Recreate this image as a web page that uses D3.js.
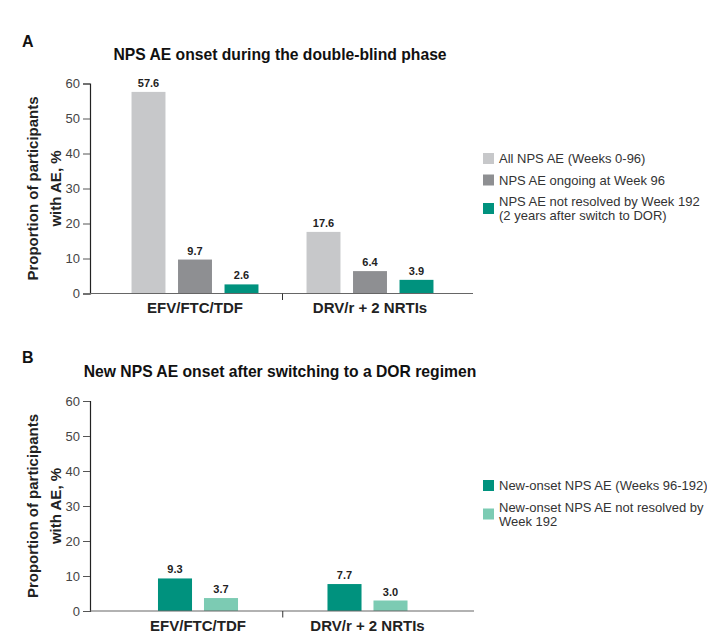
<!DOCTYPE html>
<html>
<head>
<meta charset="utf-8">
<script src="https://cdn.jsdelivr.net/npm/d3@7"></script>
<style>
  body { margin: 0; background: #fff; }
  svg { display: block; font-family: "Liberation Sans", Arial, Helvetica, sans-serif; }
</style>
</head>
<body>
<div class="chart"></div>
<script>
// data
const groups = ["EFV/FTC/TDF", "DRV/r + 2 NRTIs"];
const yTicks = [0, 10, 20, 30, 40, 50, 60];

const seriesA = [
  "All NPS AE (Weeks 0-96)",
  "NPS AE ongoing at Week 96",
  "NPS AE not resolved by Week 192\n(2 years after switch to DOR)"
];
const allNps = [57.6, 17.6];
const ongoingWk96 = [9.7, 6.4];
const notResolvedWk192 = [2.6, 3.9];

const seriesB = [
  "New-onset NPS AE (Weeks 96-192)",
  "New-onset NPS AE not resolved by\nWeek 192"
];
const newOnset = [9.3, 7.7];
const newNotResolved = [3.7, 3.0];

const colorsA = ["#c7c8ca", "#8e8f92", "#00927e"];
const colorsB = ["#00927e", "#7ccbb3"];

const svg = d3.select(".chart").append("svg")
  .attr("width", 707)
  .attr("height", 634);

// one panel = title, y axis, grouped bars, legend
const drawPanel = p => {
  const g = svg.append("g");

  g.append("text")
    .attr("x", 22).attr("y", p.letterY)
    .style("font-size", "16px").style("font-weight", "bold").style("fill", "#111")
    .text(p.letter);

  g.append("text")
    .attr("x", 280).attr("y", p.titleY)
    .attr("text-anchor", "middle")
    .style("font-size", "15.7px").style("font-weight", "bold").style("fill", "#111")
    .text(p.title);

  const y = d3.scaleLinear().domain([0, 60]).range([p.y0, p.y0 - 210]);

  const x0 = d3.scaleBand().domain(groups).range(p.groupRange).padding(0);
  const x1 = d3.scaleBand().domain(p.series)
    .range([-p.innerWidth / 2, p.innerWidth / 2])
    .paddingInner(p.padIn).paddingOuter(p.padIn / 2);

  // y axis
  const yAxis = g.append("g")
    .attr("transform", `translate(90,0)`)
    .call(d3.axisLeft(y).tickValues(yTicks).tickSize(7).tickPadding(3));
  yAxis.select(".domain").attr("stroke", "#222").attr("stroke-width", 1.2);
  yAxis.selectAll(".tick line").attr("stroke", "#555");
  yAxis.selectAll(".tick text")
    .style("font-size", "13px").style("fill", "#444")
    .style("font-family", "'Liberation Sans', Arial, sans-serif");

  // y axis title, two lines
  const yt = g.append("text")
    .attr("transform", `translate(0, ${y(30)}) rotate(-90)`)
    .attr("text-anchor", "middle")
    .style("font-size", "15px").style("font-weight", "bold").style("fill", "#222");
  yt.append("tspan").attr("x", 0).attr("y", 37.5).text("Proportion of participants");
  yt.append("tspan").attr("x", 0).attr("y", 60.5).text("with AE, %");

  // bars
  const rows = groups.map((grp, i) => ({
    grp,
    vals: p.series.map((s, j) => ({ s, v: p.values[j][i], c: p.colors[j] }))
  }));

  const grpG = g.selectAll(".grp")
    .data(rows)
    .join("g")
    .attr("class", "grp")
    .attr("transform", d => `translate(${x0(d.grp) + x0.bandwidth() / 2},0)`);

  grpG.selectAll("rect")
    .data(d => d.vals)
    .join("rect")
    .attr("x", d => x1(d.s))
    .attr("y", d => y(d.v))
    .attr("width", x1.bandwidth())
    .attr("height", d => y(0) - y(d.v))
    .attr("fill", d => d.c);

  grpG.selectAll(".val")
    .data(d => d.vals)
    .join("text")
    .attr("class", "val")
    .attr("x", d => x1(d.s) + x1.bandwidth() / 2)
    .attr("y", d => y(d.v) - 5)
    .attr("text-anchor", "middle")
    .style("font-size", "11px").style("font-weight", "bold").style("fill", "#222")
    .text(d => d.v.toFixed(1));

  grpG.append("text")
    .attr("y", y(0) + 19.5)
    .attr("text-anchor", "middle")
    .style("font-size", "15px").style("font-weight", "bold").style("fill", "#222")
    .text(d => d.grp);

  // baseline and separator tick
  g.append("line")
    .attr("x1", 90).attr("x2", p.axisEnd)
    .attr("y1", y(0)).attr("y2", y(0))
    .attr("stroke", "#666").attr("stroke-width", 1.2);

  const sep = (x0(groups[0]) + x0(groups[1]) + x0.bandwidth()) / 2;
  g.append("line")
    .attr("x1", sep).attr("x2", sep)
    .attr("y1", y(0)).attr("y2", y(0) + 6.5)
    .attr("stroke", "#333").attr("stroke-width", 1);

  // legend
  let ly = p.legendY;
  p.series.forEach((s, j) => {
    const lines = s.split("\n");
    const mid = ly - 4.5 + (lines.length - 1) * 7;
    g.append("rect")
      .attr("x", 483).attr("y", mid - 5.5)
      .attr("width", 11).attr("height", 11)
      .attr("fill", p.colors[j]);
    const t = g.append("text")
      .style("font-size", "13px").style("fill", "#333");
    lines.forEach((ln, k) => {
      t.append("tspan").attr("x", 499).attr("y", ly + k * 14).text(ln);
    });
    ly += 21.5 + (lines.length - 1) * 14;
  });
};

drawPanel({
  letter: "A", letterY: 47,
  title: "NPS AE onset during the double-blind phase", titleY: 60,
  y0: 293.5,
  groupRange: [107.5, 457.5],
  innerWidth: 139.5, padIn: 0.27,
  axisEnd: 473,
  series: seriesA,
  values: [allNps, ongoingWk96, notResolvedWk192],
  colors: colorsA,
  legendY: 163
});

drawPanel({
  letter: "B", letterY: 363,
  title: "New NPS AE onset after switching to a DOR regimen", titleY: 377,
  y0: 611,
  groupRange: [113.25, 452.25],
  innerWidth: 92, padIn: 0.26,
  axisEnd: 474,
  series: seriesB,
  values: [newOnset, newNotResolved],
  colors: colorsB,
  legendY: 490
});
</script>
</body>
</html>
